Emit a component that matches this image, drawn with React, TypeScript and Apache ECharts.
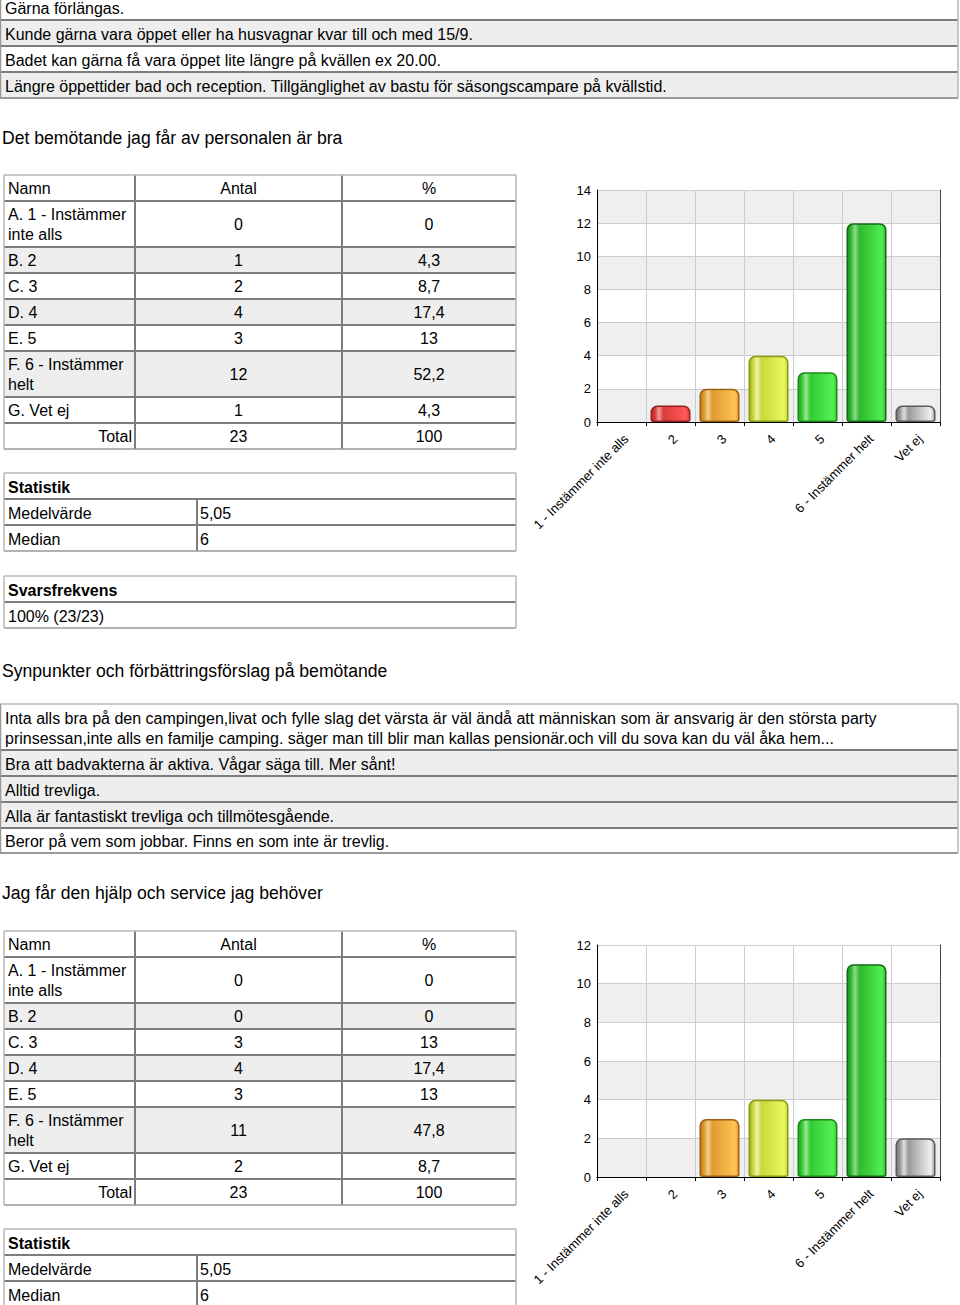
import React, { useEffect, useRef } from "react";
import * as echarts from "echarts";

// ---------- data ----------
const topComments = [
  "Gärna förlängas.",
  "Kunde gärna vara öppet eller ha husvagnar kvar till och med 15/9.",
  "Badet kan gärna få vara öppet lite längre på kvällen ex 20.00.",
  "Längre öppettider bad och reception. Tillgänglighet av bastu för säsongscampare på kvällstid.",
];
const heading1 = "Det bemötande jag får av personalen är bra";
const heading2 = "Synpunkter och förbättringsförslag på bemötande";
const heading3 = "Jag får den hjälp och service jag behöver";

const tableHeaders = ["Namn", "Antal", "%"];
const optionNames = [
  "A. 1 - Instämmer\ninte alls",
  "B. 2",
  "C. 3",
  "D. 4",
  "E. 5",
  "F. 6 - Instämmer\nhelt",
  "G. Vet ej",
];
const categories = ["1 - Instämmer inte alls", "2", "3", "4", "5", "6 - Instämmer helt", "Vet ej"];
const totalLabel = "Total";

const q1Counts = [0, 1, 2, 4, 3, 12, 1];
const q1Percents = ["0", "4,3", "8,7", "17,4", "13", "52,2", "4,3"];
const q1Total = ["23", "100"];
const q1Stats = ["5,05", "6"];
const q1Response = "100% (23/23)";
const q1YTicks = [0, 14, 2];

const q2Counts = [0, 0, 3, 4, 3, 11, 2];
const q2Percents = ["0", "0", "13", "17,4", "13", "47,8", "8,7"];
const q2Total = ["23", "100"];
const q2Stats = ["5,05", "6"];
const q2YTicks = [0, 12, 2];

const statTitle = "Statistik";
const statLabels = ["Medelvärde", "Median"];
const responseTitle = "Svarsfrekvens";

const bemotandeComments = [
  "Inta alls bra på den campingen,livat och fylle slag det värsta är väl ändå att människan som är ansvarig är den största party\nprinsessan,inte alls en familje camping. säger man till blir man kallas pensionär.och vill du sova kan du väl åka hem...",
  "Bra att badvakterna är aktiva. Vågar säga till. Mer sånt!",
  "Alltid trevliga.",
  "Alla är fantastiskt trevliga och tillmötesgående.",
  "Beror på vem som jobbar. Finns en som inte är trevlig.",
];

// ---------- styles ----------
const FONT = '"Liberation Sans", Arial, Helvetica, sans-serif';
const GRAY = "#eeeeee";
const DARK = "#7d7d7d";
const LIGHT = "#b8b8b8";

const PALETTE = [
  { dark: "#8a1010", mid: "#c02020", light: "#e07070", bright: "#e83030", border: "#701010" },
  { dark: "#b82828", mid: "#dc3a3a", light: "#f09a9a", bright: "#ff5a5a", border: "#922020" },
  { dark: "#c07818", mid: "#e09a30", light: "#f4cf90", bright: "#ffc455", border: "#9a6010" },
  { dark: "#9aac18", mid: "#c8d838", light: "#eef4b0", bright: "#e8f860", border: "#8a9a10" },
  { dark: "#20a020", mid: "#32cc32", light: "#98e898", bright: "#55f055", border: "#1a8a1a" },
  { dark: "#1a8a1a", mid: "#2fba2f", light: "#8fd88f", bright: "#50ee50", border: "#146a14" },
  { dark: "#707070", mid: "#9a9a9a", light: "#dedede", bright: "#f0f0f0", border: "#5a5a5a" },
];

function barStyle(i: number, v: number) {
  const p = PALETTE[i];
  return {
    color: new echarts.graphic.LinearGradient(0, 0, 1, 0, [
      { offset: 0, color: p.dark },
      { offset: 0.1, color: p.mid },
      { offset: 0.2, color: p.light },
      { offset: 0.32, color: p.mid },
      { offset: 0.9, color: p.bright },
      { offset: 1, color: p.mid },
    ]),
    borderColor: p.border,
    borderWidth: v > 0 ? 1.5 : 0,
    opacity: v > 0 ? 1 : 0,
    borderRadius: [6, 6, 2, 2],
  };
}

// ---------- graphic helpers ----------
function buildGraphics() {
  const els: any[] = [];
  const rect = (x: number, y: number, w: number, h: number, fill: string) =>
    els.push({ type: "rect", silent: true, shape: { x, y, width: w, height: h }, style: { fill } });
  const hline = (x1: number, x2: number, y: number, stroke = DARK, lw = 2) =>
    els.push({ type: "line", silent: true, shape: { x1, y1: y, x2, y2: y }, style: { stroke, lineWidth: lw } });
  const vline = (x: number, y1: number, y2: number, stroke = DARK, lw = 2) =>
    els.push({ type: "line", silent: true, shape: { x1: x, y1, x2: x, y2 }, style: { stroke, lineWidth: lw } });
  const text = (t: string, x: number, y: number, align = "left", size = 16, bold = false) =>
    els.push({
      type: "text",
      silent: true,
      x,
      y,
      z: 10,
      style: {
        text: t,
        fill: "#000",
        fontSize: size,
        fontFamily: FONT,
        fontWeight: bold ? "bold" : "normal",
        lineHeight: 20,
        align,
        textAlign: align,
        verticalAlign: "middle",
        textVerticalAlign: "middle",
      },
    });

  const commentTable = (x1: number, x2: number, ys: number[], texts: string[], bgs: string[], topLine: boolean) => {
    for (let i = 0; i < texts.length; i++) {
      rect(x1, ys[i], x2 - x1, ys[i + 1] - ys[i], bgs[i]);
    }
    if (topLine) hline(x1, x2, ys[0], LIGHT, 1.5);
    for (let i = 1; i < ys.length; i++) hline(x1, x2, ys[i], i === ys.length - 1 ? "#999" : DARK, 2);
    vline(x1 + 0.5, ys[0], ys[ys.length - 1], "#999", 1.5);
    vline(x2, ys[0], ys[ys.length - 1], LIGHT, 1.5);
    for (let i = 0; i < texts.length; i++) text(texts[i], x1 + 5, (ys[i] + ys[i + 1]) / 2 + 1);
  };

  const answerTable = (off: number, counts: number[], pcts: string[], total: string[]) => {
    const ys = [175, 201, 247, 273, 299, 325, 351, 397, 423, 449].map((v) => v + off);
    const xs = [4, 135, 342, 516];
    const bgs = ["#fff", "#fff", GRAY, "#fff", GRAY, "#fff", GRAY, "#fff", "#fff"];
    for (let i = 0; i < bgs.length; i++) rect(xs[0], ys[i], xs[3] - xs[0], ys[i + 1] - ys[i], bgs[i]);
    for (let i = 1; i < ys.length - 1; i++) hline(xs[0], xs[3], ys[i]);
    vline(xs[1], ys[0], ys[ys.length - 1]);
    vline(xs[2], ys[0], ys[ys.length - 1]);
    hline(xs[0], xs[3], ys[0], LIGHT, 1.5);
    hline(xs[0], xs[3], ys[ys.length - 1], "#999", 1.5);
    vline(xs[0], ys[0], ys[ys.length - 1], LIGHT, 1.5);
    vline(xs[3], ys[0], ys[ys.length - 1], LIGHT, 1.5);
    const c1 = (xs[1] + xs[2]) / 2;
    const c2 = (xs[2] + xs[3]) / 2;
    const mid = (i: number) => (ys[i] + ys[i + 1]) / 2 + 0.5;
    text(tableHeaders[0], xs[0] + 4, mid(0));
    text(tableHeaders[1], c1, mid(0), "center");
    text(tableHeaders[2], c2, mid(0), "center");
    for (let r = 0; r < optionNames.length; r++) {
      text(optionNames[r], xs[0] + 4, mid(r + 1));
      text(String(counts[r]), c1, mid(r + 1), "center");
      text(pcts[r], c2, mid(r + 1), "center");
    }
    text(totalLabel, xs[1] - 3, mid(8), "right");
    text(total[0], c1, mid(8), "center");
    text(total[1], c2, mid(8), "center");
  };

  const statTable = (top: number, vals: string[]) => {
    const ys = [top, top + 26, top + 52, top + 78];
    rect(4, ys[0], 512, 78, "#fff");
    hline(4, 516, ys[1]);
    hline(4, 516, ys[2]);
    vline(197, ys[1], ys[3]);
    hline(4, 516, ys[0], LIGHT, 1.5);
    hline(4, 516, ys[3], "#999", 1.5);
    vline(4, ys[0], ys[3], LIGHT, 1.5);
    vline(516, ys[0], ys[3], LIGHT, 1.5);
    text(statTitle, 8, ys[0] + 14, "left", 16, true);
    text(statLabels[0], 8, ys[1] + 14);
    text(vals[0], 200, ys[1] + 14);
    text(statLabels[1], 8, ys[2] + 14);
    text(vals[1], 200, ys[2] + 14);
  };

  const responseTable = (top: number, val: string) => {
    const ys = [top, top + 26, top + 52];
    rect(4, ys[0], 512, 52, "#fff");
    hline(4, 516, ys[1]);
    hline(4, 516, ys[0], LIGHT, 1.5);
    hline(4, 516, ys[2], "#999", 1.5);
    vline(4, ys[0], ys[2], LIGHT, 1.5);
    vline(516, ys[0], ys[2], LIGHT, 1.5);
    text(responseTitle, 8, ys[0] + 14, "left", 16, true);
    text(val, 8, ys[1] + 14);
  };

  commentTable(0, 958, [-6, 20, 46, 72, 98], topComments, ["#fff", GRAY, "#fff", GRAY], false);
  text(heading1, 2, 138, "left", 17.6);
  answerTable(0, q1Counts, q1Percents, q1Total);
  statTable(473, q1Stats);
  responseTable(576, q1Response);
  text(heading2, 2, 671, "left", 17.6);
  commentTable(0, 958, [704, 750, 776, 802, 828, 853], bemotandeComments, ["#fff", GRAY, GRAY, GRAY, "#fff"], true);
  text(heading3, 2, 893, "left", 17.6);
  answerTable(756, q2Counts, q2Percents, q2Total);
  statTable(1229, q2Stats);
  return els;
}

function axesFor(gridIndex: number, ticks: number[]) {
  const x = {
    gridIndex,
    type: "category",
    data: categories,
    axisLine: { show: true, lineStyle: { color: "#000", width: 1 } },
    axisTick: { show: true, length: 4, lineStyle: { color: "#000" } },
    splitLine: { show: true, interval: 0, lineStyle: { color: "#cccccc", width: 1 } },
    axisLabel: {
      interval: 0,
      rotate: 45,
      fontSize: 13,
      color: "#000",
      fontFamily: FONT,
      margin: 10,
      verticalAlign: "top",
    },
  };
  const xTop = {
    gridIndex,
    type: "category",
    position: "top",
    data: categories,
    axisLine: { show: true, lineStyle: { color: "#000", width: 1 } },
    axisTick: { show: false },
    axisLabel: { show: false },
    splitLine: { show: false },
  };
  const y = {
    gridIndex,
    type: "value",
    min: ticks[0],
    max: ticks[1],
    interval: ticks[2],
    axisLine: { show: true, lineStyle: { color: "#000", width: 1 } },
    axisTick: { show: false },
    splitLine: { show: true, lineStyle: { color: "#cccccc", width: 1 } },
    splitArea: { show: true, areaStyle: { color: ["#efefef", "#ffffff"] } },
    axisLabel: { fontSize: 13, color: "#000", fontFamily: FONT, margin: 6 },
  };
  const yRight = {
    gridIndex,
    type: "value",
    position: "right",
    min: ticks[0],
    max: ticks[1],
    interval: ticks[2],
    axisLine: { show: true, lineStyle: { color: "#444", width: 1 } },
    axisTick: { show: false },
    axisLabel: { show: false },
    splitLine: { show: false },
  };
  return { x, xTop, y, yRight };
}

export default function App() {
  const ref = useRef<HTMLDivElement>(null);
  useEffect(() => {
    if (!ref.current) return;
    const chart = echarts.init(ref.current, undefined, { renderer: "svg" });
    const a1 = axesFor(0, q1YTicks);
    const a2 = axesFor(1, q2YTicks);
    chart.setOption({
      animation: false,
      backgroundColor: "#ffffff",
      textStyle: { fontFamily: FONT },
      grid: [
        { left: 597, top: 190, width: 343, height: 232, containLabel: false },
        { left: 597, top: 945, width: 343, height: 232, containLabel: false },
      ],
      xAxis: [a1.x, a2.x, a1.xTop, a2.xTop],
      yAxis: [a1.y, a2.y, a1.yRight, a2.yRight],
      series: [
        {
          type: "bar",
          xAxisIndex: 0,
          yAxisIndex: 0,
          barWidth: 40,
          data: q1Counts.map((v, i) => ({ value: v, itemStyle: barStyle(i, v) })),
        },
        {
          type: "bar",
          xAxisIndex: 1,
          yAxisIndex: 1,
          barWidth: 40,
          data: q2Counts.map((v, i) => ({ value: v, itemStyle: barStyle(i, v) })),
        },
      ],
      graphic: { elements: buildGraphics() },
    });
    return () => chart.dispose();
  }, []);
  return (
    <div
      ref={ref}
      style={{ position: "absolute", left: 0, top: 0, width: 960, height: 1305, background: "#fff" }}
    />
  );
}
